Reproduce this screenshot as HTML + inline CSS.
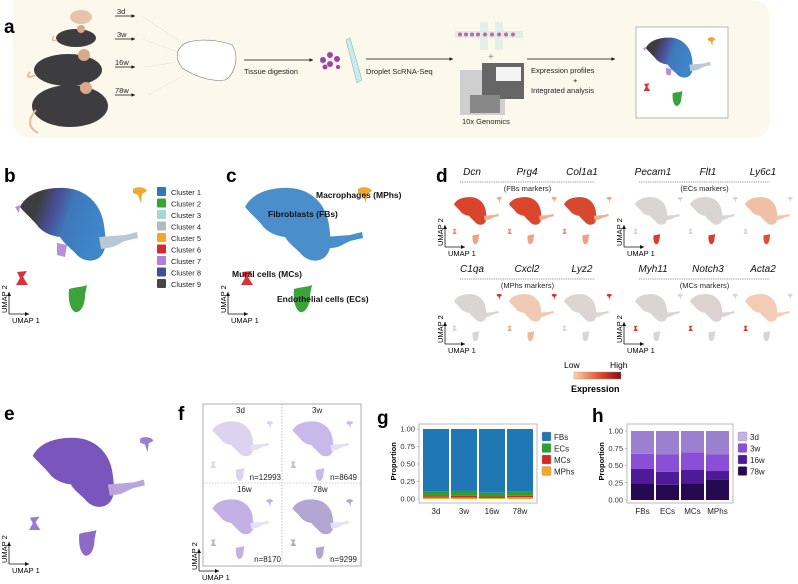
<!DOCTYPE html>
<html><head><meta charset="utf-8"><style>
html,body{margin:0;padding:0;background:#fff}
svg{display:block;font-family:"Liberation Sans",Arial,sans-serif}
.pl{font-weight:bold;font-size:19px}
.sm{font-size:7.5px;fill:#222}
.gene{font-size:10px;font-style:italic;fill:#111}
</style></head><body>
<svg id="fig" width="798" height="584" viewBox="0 0 798 584">
<defs>
<linearGradient id="gb" x1="0" x2="1" y1="0" y2="0.3">
<stop offset="0.25" stop-color="#3d3d40"/><stop offset="0.45" stop-color="#4a4e98"/><stop offset="0.62" stop-color="#3f78bb"/><stop offset="1" stop-color="#3e86c8"/></linearGradient>
<linearGradient id="cbar" x1="0" x2="1"><stop offset="0" stop-color="#fcd4a5"/><stop offset="0.5" stop-color="#e8553a"/><stop offset="1" stop-color="#8c0a12"/></linearGradient>
<marker id="ah" markerWidth="6" markerHeight="6" refX="5" refY="3" orient="auto"><path d="M0,0.5 L5,3 L0,5.5Z" fill="#111"/></marker>
</defs>

<g>
<path d="M13,0 H750 Q770,0 770,20 V118 Q770,138 750,138 H33 Q13,138 13,118Z" fill="#fdf8ec"/>
<text x="4" y="33" class="pl">a</text>
<g>
<ellipse cx="81" cy="17" rx="11" ry="7" fill="#e9c3a9"/>
<ellipse cx="76" cy="38" rx="20" ry="9" fill="#3d3d40"/><circle cx="81" cy="29" r="4" fill="#d9a98c"/><path d="M57,40 Q50,42 54,36" stroke="#e5bca0" stroke-width="1.5" fill="none"/>
<ellipse cx="68" cy="70" rx="34" ry="16" fill="#3d3d40"/><circle cx="84" cy="55" r="6" fill="#d9a98c"/><path d="M36,75 Q24,80 30,72" stroke="#e5bca0" stroke-width="2" fill="none"/>
<ellipse cx="70" cy="106" rx="38" ry="21" fill="#3d3d40"/><circle cx="86" cy="88" r="6" fill="#d9a98c"/><path d="M36,110 Q23,125 38,133" stroke="#e5bca0" stroke-width="2" fill="none"/>
</g>
<g>
<text x="117" y="14" class="sm">3d</text><text x="117" y="37" class="sm">3w</text><text x="115" y="65" class="sm">16w</text><text x="115" y="93" class="sm">78w</text>
</g>
<g stroke="#111" stroke-width="0.7" marker-end="url(#ah)">
<line x1="115" y1="16" x2="135" y2="16"/><line x1="115" y1="39" x2="135" y2="39"/><line x1="115" y1="67" x2="135" y2="67"/><line x1="115" y1="95" x2="135" y2="95"/>
<line x1="244" y1="60" x2="313" y2="60"/><line x1="366" y1="59" x2="453" y2="59"/><line x1="527" y1="59" x2="615" y2="59"/>
</g>
<g stroke="#ccc" stroke-width="0.5" stroke-dasharray="1,1"><line x1="142" y1="16" x2="185" y2="45"/><line x1="142" y1="39" x2="178" y2="52"/><line x1="145" y1="67" x2="178" y2="62"/><line x1="148" y1="95" x2="185" y2="75"/></g>
<path d="M180,48 C185,38 215,38 232,45 C240,55 235,75 225,80 C210,82 195,76 182,68 C176,60 176,52 180,48Z" fill="#fff" stroke="#777" stroke-width="0.6"/>
<text x="244" y="74" class="sm">Tissue digestion</text>
<g fill="#a040a8"><circle cx="323" cy="60" r="3"/><circle cx="330" cy="55" r="3"/><circle cx="330" cy="64" r="3"/><circle cx="337" cy="59" r="3"/><circle cx="325" cy="67" r="2.5"/><circle cx="338" cy="67" r="2"/></g>
<path d="M346,40 L350,38 L362,80 L357,83Z" fill="#c8ecf0" stroke="#7aa" stroke-width="0.5"/>
<text x="366" y="74" class="sm">Droplet ScRNA-Seq</text>
<rect x="455" y="31" width="68" height="7" fill="#dfeee8"/>
<rect x="480" y="22" width="8" height="28" fill="#dfeee8" opacity="0.9"/><rect x="495" y="22" width="8" height="28" fill="#dfeee8" opacity="0.9"/>
<g fill="#c565a8"><circle cx="460" cy="34.5" r="2"/><circle cx="466" cy="34.5" r="2"/><circle cx="472" cy="34.5" r="2"/><circle cx="478" cy="34.5" r="2"/><circle cx="485" cy="34.5" r="2"/><circle cx="492" cy="34.5" r="2"/><circle cx="499" cy="34.5" r="2"/><circle cx="506" cy="34.5" r="2"/><circle cx="513" cy="34.5" r="2"/></g>
<text x="488" y="60" font-size="10" fill="#888">+</text>
<g><rect x="460" y="70" width="45" height="45" fill="#cfcfcf"/><rect x="482" y="63" width="42" height="36" fill="#666"/><rect x="496" y="67" width="25" height="14" fill="#f4f4f4"/><rect x="470" y="95" width="30" height="18" fill="#888"/></g>
<text x="462" y="124" class="sm">10x Genomics</text>
<text x="531" y="73" class="sm">Expression profiles</text><text x="573" y="83" class="sm">+</text><text x="531" y="93" class="sm">Integrated analysis</text>
<rect x="636" y="27" width="92" height="91" fill="#fff" stroke="#888" stroke-width="0.6"/>
<g id="inset"></g>
</g>

<text x="4" y="182" class="pl">b</text>
<g id="pb"></g>
<g id="legb"></g>
<text x="226" y="182" class="pl">c</text>
<g id="pc"></g>
<g font-weight="bold" font-size="8.5" fill="#111">
<text x="316" y="198">Macrophages (MPhs)</text><text x="268" y="217">Fibroblasts (FBs)</text><text x="232" y="277">Mural cells (MCs)</text><text x="277" y="302">Endothelial cells (ECs)</text></g>
<text x="436" y="182" class="pl">d</text>
<g id="pd"></g>
<rect x="574" y="372" width="47" height="7" fill="url(#cbar)" stroke="#999" stroke-width="0.4"/>
<text x="564" y="368" font-size="8.5">Low</text><text x="610" y="368" font-size="8.5">High</text>
<text x="571" y="392" font-size="9" font-weight="bold">Expression</text>
<text x="4" y="420" class="pl">e</text>
<g id="pe"></g>
<text x="178" y="420" class="pl">f</text>
<rect x="203" y="404" width="158" height="162" fill="#fff" stroke="#999" stroke-width="0.8"/>
<line x1="282" y1="404" x2="282" y2="566" stroke="#999" stroke-dasharray="1.5,1.5" stroke-width="0.6"/>
<line x1="203" y1="483" x2="361" y2="483" stroke="#999" stroke-dasharray="1.5,1.5" stroke-width="0.6"/>
<g id="pf"></g>
<g font-size="8" fill="#222"><text x="236" y="413">3d</text><text x="312" y="413">3w</text><text x="237" y="492">16w</text><text x="313" y="492">78w</text>
<text x="281" y="480" text-anchor="end">n=12993</text><text x="357" y="480" text-anchor="end">n=8649</text><text x="281" y="562" text-anchor="end">n=8170</text><text x="357" y="562" text-anchor="end">n=9299</text></g>
<text x="377" y="424" class="pl">g</text>
<g id="pg"></g>
<text x="592" y="422" class="pl">h</text>
<g id="ph"></g>
</svg>
<script>
var NS='http://www.w3.org/2000/svg';
function el(tag,attrs,parent){var e=document.createElementNS(NS,tag);for(var k in attrs)e.setAttribute(k,attrs[k]);parent.appendChild(e);return e;}
var BEAN='M5,22 C12,8 30,2 50,3 C70,4 86,18 89,40 C91,55 92,65 85,72 C78,78 68,76 62,70 C56,63 50,60 45,52 C35,51 26,46 22,40 C16,33 10,28 5,22Z';
var TAIL='M84,52 L110,50 L122,47 L123,53 L110,56 L98,62 L86,64Z';
var TR='M118,4 C122,1 130,2 132,6 L127,9 L126,18 L123,10 L118,8Z';
var RED='M2,87 L12,86 L8,92 L13,100 L1,100 L5,93Z';
var GRN='M54,104 C60,102 68,102 72,100 L70,110 C70,120 66,128 60,127 C55,124 53,115 54,104Z';
function umap(parent,name,x,y,s,c,op){
  var g=el('g',{transform:'translate('+x+','+y+') scale('+s+')',opacity:op||1},parent);
  
  
  el('path',{d:BEAN,fill:c[0]},g);el('path',{d:TAIL,fill:c[4]||c[0]},g);
  el('path',{d:TR,fill:c[1]},g);el('path',{d:RED,fill:c[2]},g);el('path',{d:GRN,fill:c[3]},g);
  if(c[5]){el('path',{d:'M42,58 L52,60 L50,72 L42,70Z',fill:c[5]},g);el('path',{d:'M0,22 L5,20 L4,28Z',fill:c[5]},g);}
  return g;}
function axes(parent,x,y,name){
  var g=el('g',{},parent);
  
  
  el('line',{x1:x,y1:y,x2:x,y2:y-22,stroke:'#111','stroke-width':0.8,'marker-end':'url(#ah)'},g);
  el('line',{x1:x,y1:y,x2:x+20,y2:y,stroke:'#111','stroke-width':0.8,'marker-end':'url(#ah)'},g);
  var t=el('text',{x:x+3,y:y+9,'font-size':7.5},g);t.textContent='UMAP 1';
  var t2=el('text',{x:0,y:0,'font-size':7.5,transform:'translate('+(x-2)+','+(y-1)+') rotate(-90)'},g);t2.textContent='UMAP 2';}
var BCOL=['url(#gb)','#f0a830','#d8323a','#3aa43a','#b9c8d4','#b58ee0'];
umap(document.getElementById('inset'),'inset-umap',643,36,0.55,BCOL);
umap(document.getElementById('pb'),'umap-clusters',15,185,1,BCOL);
axes(document.getElementById('pb'),9,314,'umap-axes-b');
umap(document.getElementById('pc'),'umap-cell-types',240,185,1,['#4a8fcb','#f0a830','#d8323a','#3aa43a','#4a8fcb']);
axes(document.getElementById('pc'),228,314,'umap-axes-c');
var clusterNames=['Cluster 1','Cluster 2','Cluster 3','Cluster 4','Cluster 5','Cluster 6','Cluster 7','Cluster 8','Cluster 9'];
var clusterCols=['#2f78bd','#36a535','#a6d6d6','#b3b9c0','#f5a623','#d7282e','#b07de0','#3c4f9a','#45474a'];
var lg=document.getElementById('legb');
clusterNames.forEach(function(n,i){var yy=187+i*11.5;
  var r=el('rect',{x:157,y:yy,width:9,height:9,fill:clusterCols[i],rx:1},lg);
  
  
  var t=el('text',{x:171,y:yy+8,'font-size':7.5,fill:'#222'},lg);t.textContent=n;
  
  });
var pd=document.getElementById('pd');
var genes=[['Dcn','Prg4','Col1a1','Pecam1','Flt1','Ly6c1'],['C1qa','Cxcl2','Lyz2','Myh11','Notch3','Acta2']];
var markers=[['(FBs markers)','(ECs markers)'],['(MPhs markers)','(MCs markers)']];
var G='#d9d5d3';
var dcols=[[['#d9442c','#f2a888','#ee8f6e','#f0a382','#f0b090'],['#da472e','#f2a888','#ee8f6e','#f0a382','#f0b090'],['#d64830','#f2a888','#ee8f6e','#efa080','#f0b090'],[G,G,G,'#d8402c',G],[G,G,G,'#d8402c',G],['#f0c0a4',G,G,'#e05038','#f0c8b0']],
 [[G,'#d8332a',G,G,G],['#f0cab4','#d8332a','#f0a888','#f0b898','#f0c8b0'],['#ddd5d2','#d8332a',G,G,G],[G,G,'#e03c2c',G,G],['#dcd2cf',G,'#e03c2c',G,G],['#f2ccb4',G,'#e03c2c',G,'#f2d0bb']]];
var colX=[452,507,562,633,688,743];
for(var r=0;r<2;r++){var y0=r===0?175:272;
  for(var i=0;i<6;i++){var t=el('text',{x:colX[i]+20,y:y0,'text-anchor':'middle',class:'gene'},pd);t.textContent=genes[r][i];
    
    
    umap(pd,'umap-'+genes[r][i].toLowerCase(),colX[i],y0+21,0.38,dcols[r][i]);}
  [[460,595],[639,770]].forEach(function(s,k){el('line',{x1:s[0],y1:y0+7,x2:s[1],y2:y0+7,stroke:'#333','stroke-width':0.6,'stroke-dasharray':'1,0.8'},pd);
    var m=el('text',{x:(s[0]+s[1])/2,y:y0+16,'text-anchor':'middle','font-size':7.5,fill:'#222'},pd);m.textContent=markers[r][k];});
  axes(pd,445,y0+72,'umap-axes-d-row'+(r+1)+'-left');axes(pd,624,y0+72,'umap-axes-d-row'+(r+1)+'-right');}
umap(document.getElementById('pe'),'umap-age-density',28,435,0.95,['#7a55bc','#9b7fd0','#9a7ccf','#8d6ac8','#b9a5dc']);
axes(document.getElementById('pe'),9,564,'umap-axes-e');
var pf=document.getElementById('pf');
var fpos=[[210,420,'#ddd3f0'],[290,420,'#c9b8ea'],[210,498,'#c2b0e6'],[290,498,'#b3a6d2']];
fpos.forEach(function(p,i){umap(pf,'umap-age-'+['3d','3w','16w','78w'][i],p[0],p[1],0.48,[p[2],p[2],p[2],p[2],'#e6e0f4']);});
axes(pf,199,571,'umap-axes-f');

var gCats=['3d','3w','16w','78w'];
var gSeries=['MPhs','MCs','ECs','FBs'];
var gMPhs=[0.02,0.02,0.015,0.025];
var gMCs=[0.02,0.025,0.02,0.02];
var gECs=[0.065,0.07,0.055,0.06];
var gFBs=[0.895,0.885,0.91,0.895];
var gTicks=['0.00','0.25','0.50','0.75','1.00'];
var gCols={FBs:'#1f77b4',ECs:'#2ca02c',MCs:'#d62728',MPhs:'#f5a623'};
var hCats=['FBs','ECs','MCs','MPhs'];
var hSeries=['78w','16w','3w','3d'];
var h78w=[0.24,0.22,0.24,0.30];
var h16w=[0.21,0.19,0.20,0.12];
var h3w=[0.22,0.25,0.25,0.24];
var h3d=[0.33,0.34,0.31,0.34];
var hTicks=['0.00','0.25','0.50','0.75','1.00'];
var hCols={'3d':'#9b7fd0','3w':'#8a4fd6','16w':'#4e1a9a','78w':'#250a52'};
var hLegCols={'3d':'#c4b0ea','3w':'#8a4fd6','16w':'#4e1a9a','78w':'#250a52'};

function stackChart(gid,o){
  var g=document.getElementById(gid);
  var box=el('rect',{x:o.left,y:o.top,width:o.right-o.left,height:o.bottom-o.top,fill:'#fff',stroke:'#aaa','stroke-width':0.8},g);
  
  
  function ys(v){return o.y0+(o.y1-o.y0)*v;}
  var step=(o.right-o.left-6)/o.cats.length;
  function xs(i){return o.left+3+step*i+1;}
  o.ticks.forEach(function(tk){var v=parseFloat(tk);
    var t=el('text',{x:o.left-4,y:ys(v)+2.5,'text-anchor':'end','font-size':7.5,fill:'#333'},g);t.textContent=tk;
    
    
    el('line',{x1:o.left-2,x2:o.left,y1:ys(v),y2:ys(v),stroke:'#888','stroke-width':0.5},g);});
  o.cats.forEach(function(c,i){var acc=0;
    o.series.forEach(function(s,k){var v=o.vals[k][i];
      var b=el('rect',{x:xs(i),y:ys(acc+v),width:step-2,height:ys(acc)-ys(acc+v),fill:o.cols[s]},g);
      
      
      acc+=v;});
    var t=el('text',{x:xs(i)+(step-2)/2,y:o.bottom+11,'text-anchor':'middle','font-size':8,fill:'#222'},g);t.textContent=c;
    
    });
  var yl=el('text',{x:0,y:0,'font-size':7.5,'font-weight':'bold',transform:'translate('+(o.left-23)+','+((o.top+o.bottom)/2+17)+') rotate(-90)'},g);yl.textContent='Proportion';
  
  
  o.legend.forEach(function(s,i){var yy=o.top+8+i*11.5;
    var r=el('rect',{x:o.right+5,y:yy,width:9,height:9,fill:o.legCols[s],stroke:'#999','stroke-width':0.4,rx:1},g);
    
    
    var t=el('text',{x:o.right+17,y:yy+8,'font-size':8,fill:'#222'},g);t.textContent=s;
    
    });
}
stackChart('pg',{name:'chart-g',left:419,right:537,top:424,bottom:503,y0:499,y1:429,cats:gCats,series:gSeries,vals:[gMPhs,gMCs,gECs,gFBs],ticks:gTicks,cols:gCols,legCols:gCols,legend:['FBs','ECs','MCs','MPhs']});
stackChart('ph',{name:'chart-h',left:627,right:733,top:424,bottom:503,y0:500,y1:431,cats:hCats,series:hSeries,vals:[h78w,h16w,h3w,h3d],ticks:hTicks,cols:hCols,legCols:hLegCols,legend:['3d','3w','16w','78w']});
</script>
</body></html>
